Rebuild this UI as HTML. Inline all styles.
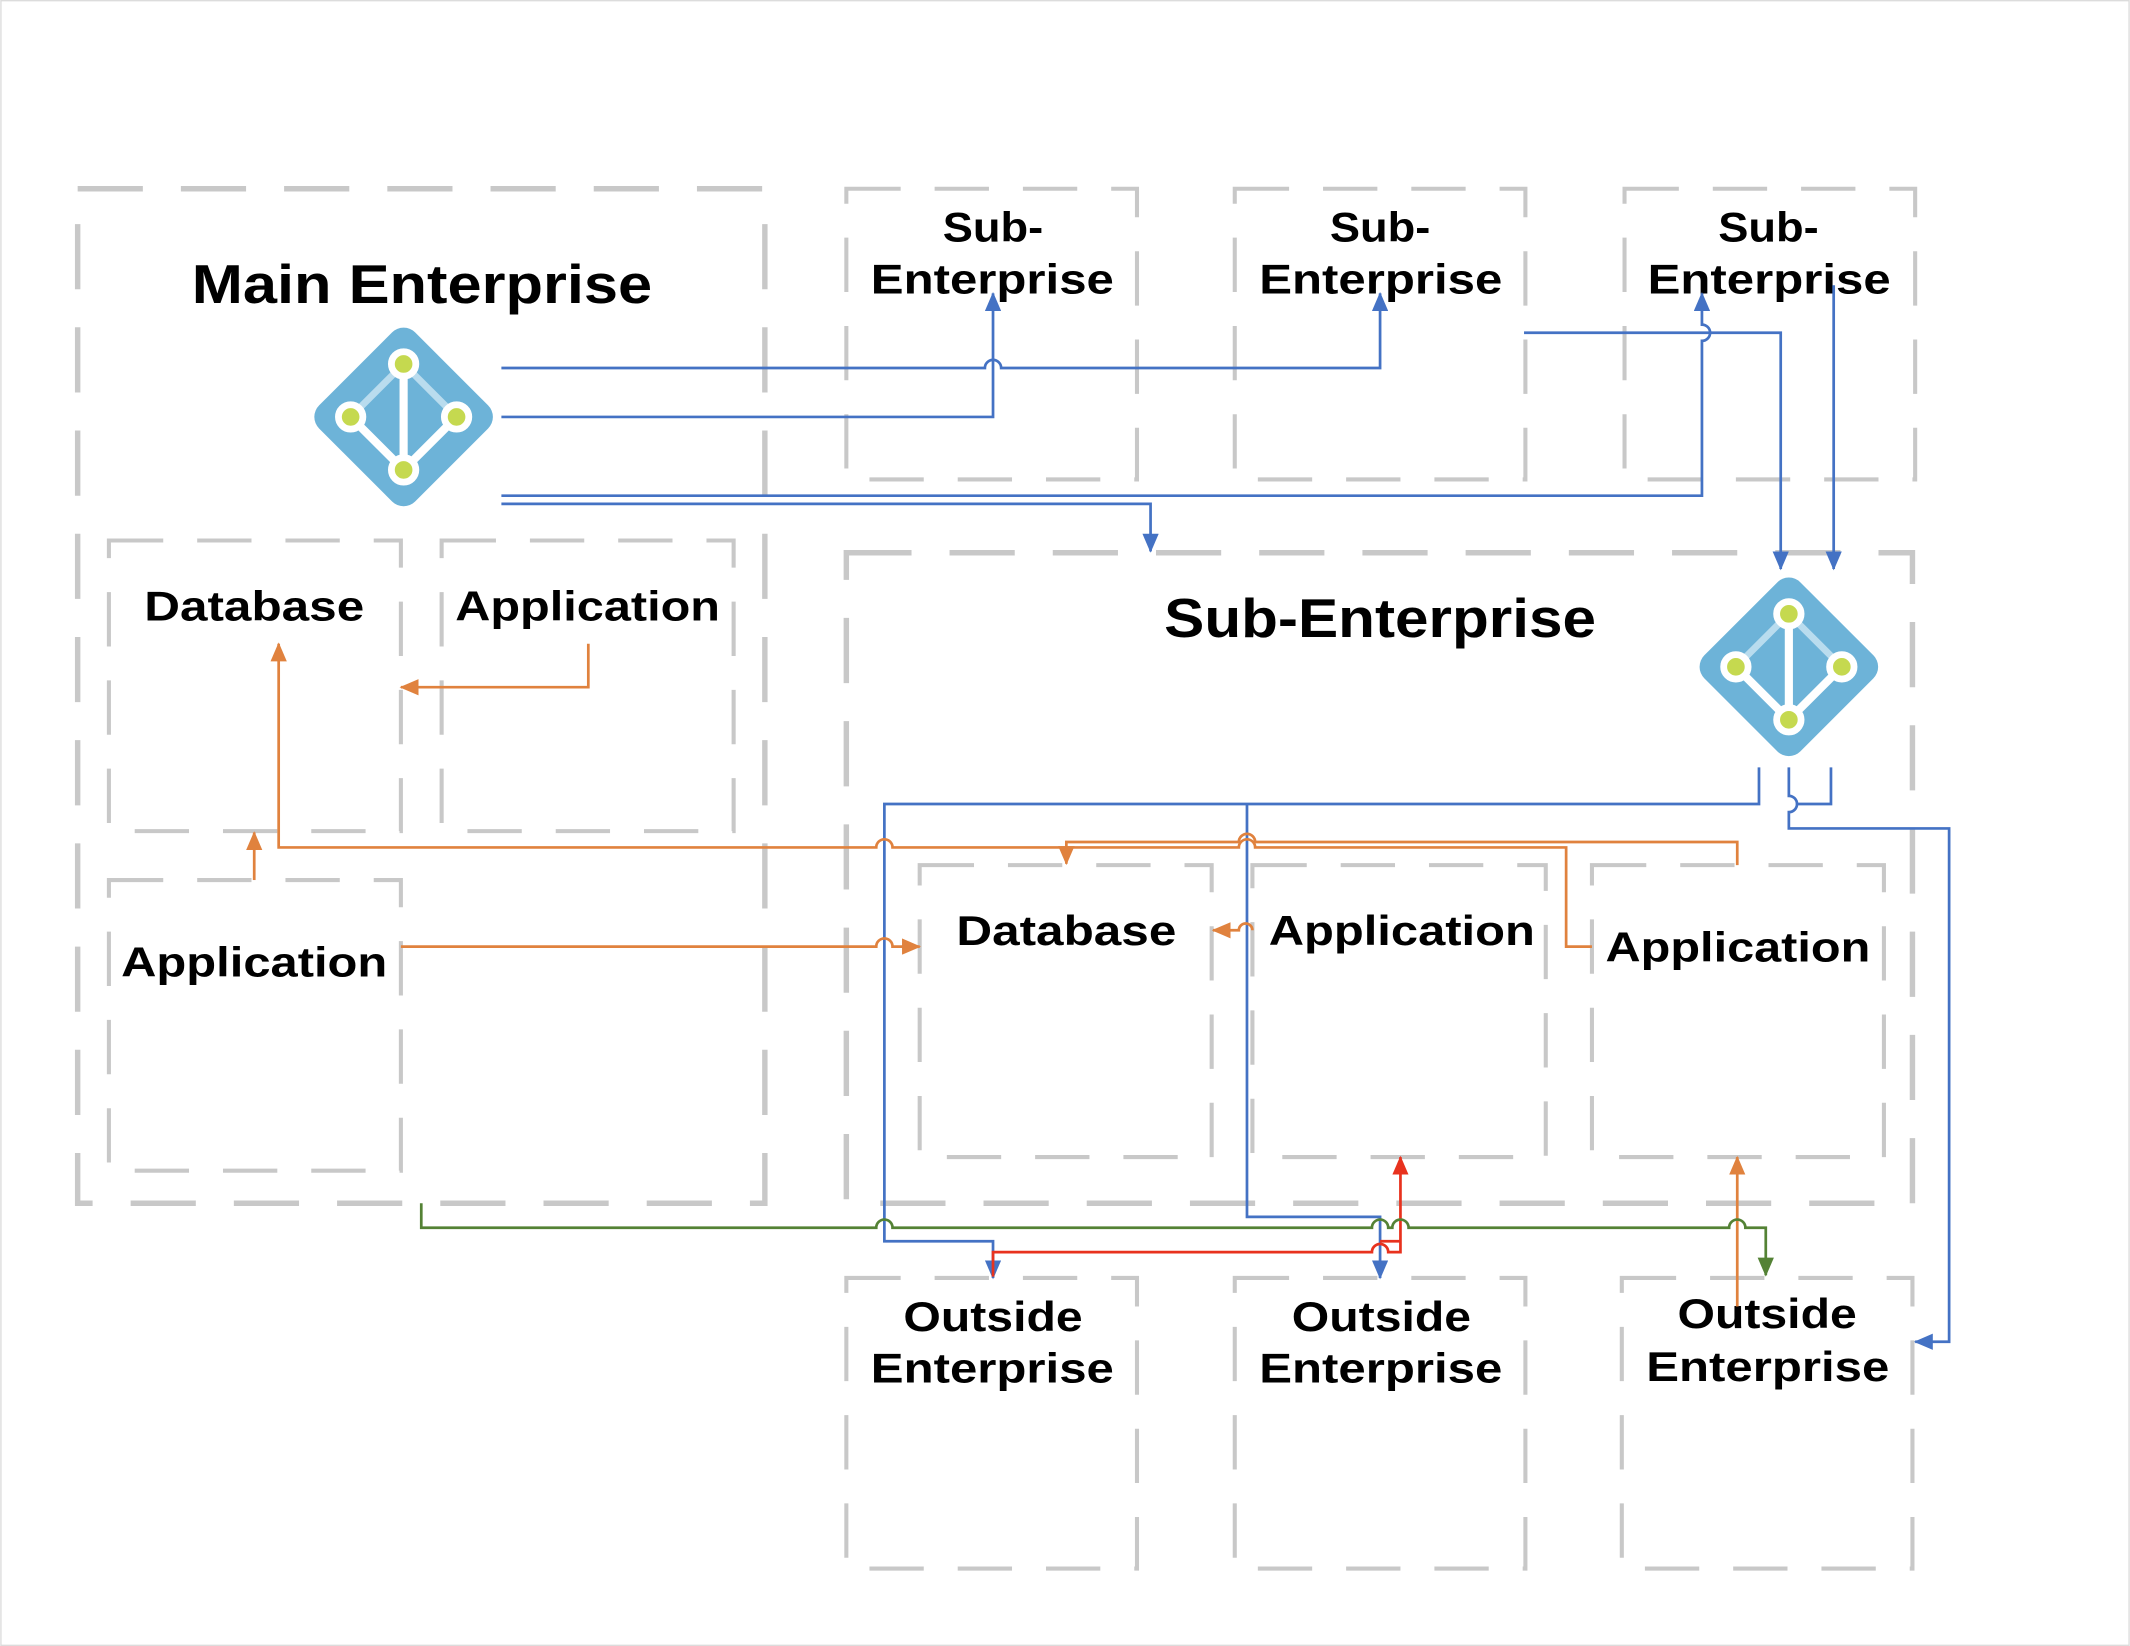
<!DOCTYPE html>
<html><head><meta charset="utf-8"><style>
html,body{margin:0;padding:0;background:#fff}
svg{display:block}
text{font-family:"Liberation Sans",Arial,sans-serif;font-weight:bold;fill:#000}
.b{fill:none;stroke:#c8c8c8;stroke-width:4;stroke-dasharray:48 28}
.bi{fill:none;stroke:#c8c8c8;stroke-width:3;stroke-dasharray:40 25}
.bl{fill:none;stroke:#4472c4;stroke-width:2}
.or{fill:none;stroke:#e0823e;stroke-width:2}
.rd{fill:none;stroke:#e8321e;stroke-width:2}
.gr{fill:none;stroke:#548235;stroke-width:2}
</style></head><body>
<svg width="2130" height="1646" viewBox="0 0 1568 1212" xmlns="http://www.w3.org/2000/svg">
<defs>
<marker id="ab" markerWidth="14" markerHeight="12" refX="13" refY="6" orient="auto" markerUnits="userSpaceOnUse"><path d="M0,0 L14,6 L0,12 z" fill="#4472c4"/></marker>
<marker id="ao" markerWidth="14" markerHeight="12" refX="13" refY="6" orient="auto" markerUnits="userSpaceOnUse"><path d="M0,0 L14,6 L0,12 z" fill="#e0823e"/></marker>
<marker id="ar" markerWidth="14" markerHeight="12" refX="13" refY="6" orient="auto" markerUnits="userSpaceOnUse"><path d="M0,0 L14,6 L0,12 z" fill="#e8321e"/></marker>
<marker id="ag" markerWidth="14" markerHeight="12" refX="13" refY="6" orient="auto" markerUnits="userSpaceOnUse"><path d="M0,0 L14,6 L0,12 z" fill="#548235"/></marker>
<g id="icon">
<rect x="-50" y="-50" width="100" height="100" rx="12" transform="rotate(45)" fill="#6db3d8"/>
<line x1="0" y1="-39" x2="39" y2="0" stroke="#b9dcee" stroke-width="5"/>
<line x1="0" y1="-39" x2="-39" y2="0" stroke="#b9dcee" stroke-width="5"/>
<line x1="0" y1="-39" x2="0" y2="39" stroke="#fff" stroke-width="6"/>
<line x1="-39" y1="0" x2="0" y2="39" stroke="#fff" stroke-width="6"/>
<line x1="39" y1="0" x2="0" y2="39" stroke="#fff" stroke-width="6"/>
<g fill="#c5d94f" stroke="#fff" stroke-width="5">
<circle cx="0" cy="-39" r="9"/><circle cx="-39" cy="0" r="9"/><circle cx="39" cy="0" r="9"/><circle cx="0" cy="39" r="9"/>
</g>
</g>
</defs>
<rect x="0.5" y="0.5" width="1567" height="1211" fill="none" stroke="#dcdcdc"/>

<rect class="b" x="57" y="139" width="506" height="747"/>
<rect class="bi" x="80" y="398" width="215" height="214"/>
<rect class="bi" x="325" y="398" width="215" height="214"/>
<rect class="bi" x="80" y="648" width="215" height="214"/>
<rect class="bi" x="623" y="139" width="214" height="214"/>
<rect class="bi" x="909" y="139" width="214" height="214"/>
<rect class="bi" x="1196" y="139" width="214" height="214"/>
<rect class="b" x="623" y="407" width="785" height="479"/>
<rect class="bi" x="677" y="637" width="215" height="215"/>
<rect class="bi" x="922" y="637" width="216" height="215"/>
<rect class="bi" x="1172" y="637" width="215" height="215"/>
<rect class="bi" x="623" y="941" width="214" height="214"/>
<rect class="bi" x="909" y="941" width="214" height="214"/>
<rect class="bi" x="1194" y="941" width="214" height="214"/>

<use href="#icon" x="297" y="307"/>
<use href="#icon" x="1317" y="491"/>

<text x="141" y="223" font-size="40" textLength="339" lengthAdjust="spacingAndGlyphs">Main Enterprise</text>
<text x="694" y="178" font-size="31" textLength="74" lengthAdjust="spacingAndGlyphs">Sub-</text>
<text x="641" y="216" font-size="31" textLength="179" lengthAdjust="spacingAndGlyphs">Enterprise</text>
<text x="979" y="178" font-size="31" textLength="74" lengthAdjust="spacingAndGlyphs">Sub-</text>
<text x="927" y="216" font-size="31" textLength="179" lengthAdjust="spacingAndGlyphs">Enterprise</text>
<text x="1265" y="178" font-size="31" textLength="74" lengthAdjust="spacingAndGlyphs">Sub-</text>
<text x="1213" y="216" font-size="31" textLength="179" lengthAdjust="spacingAndGlyphs">Enterprise</text>
<text x="106" y="457" font-size="31" textLength="162" lengthAdjust="spacingAndGlyphs">Database</text>
<text x="335" y="457" font-size="31" textLength="195" lengthAdjust="spacingAndGlyphs">Application</text>
<text x="89" y="719" font-size="31" textLength="196" lengthAdjust="spacingAndGlyphs">Application</text>
<text x="857" y="469" font-size="40" textLength="318" lengthAdjust="spacingAndGlyphs">Sub-Enterprise</text>
<text x="704" y="696" font-size="31" textLength="162" lengthAdjust="spacingAndGlyphs">Database</text>
<text x="934" y="696" font-size="31" textLength="196" lengthAdjust="spacingAndGlyphs">Application</text>
<text x="1182" y="708" font-size="31" textLength="195" lengthAdjust="spacingAndGlyphs">Application</text>
<text x="665" y="980" font-size="31" textLength="132" lengthAdjust="spacingAndGlyphs">Outside</text>
<text x="641" y="1018" font-size="31" textLength="179" lengthAdjust="spacingAndGlyphs">Enterprise</text>
<text x="951" y="980" font-size="31" textLength="132" lengthAdjust="spacingAndGlyphs">Outside</text>
<text x="927" y="1018" font-size="31" textLength="179" lengthAdjust="spacingAndGlyphs">Enterprise</text>
<text x="1235" y="978" font-size="31" textLength="132" lengthAdjust="spacingAndGlyphs">Outside</text>
<text x="1212" y="1017" font-size="31" textLength="179" lengthAdjust="spacingAndGlyphs">Enterprise</text>

<path class="bl" d="M369,271 H725 a6,6 0 0 1 12,0 H1016 V216" marker-end="url(#ab)"/>
<path class="bl" d="M369,307 H731 V216" marker-end="url(#ab)"/>
<path class="bl" d="M369,365 H1253 V251 a6,6 0 0 0 0,-12 V216" marker-end="url(#ab)"/>
<path class="bl" d="M369,371 H847 V406" marker-end="url(#ab)"/>
<path class="bl" d="M1122,245 H1311 V419" marker-end="url(#ab)"/>
<path class="bl" d="M1350,210 V419" marker-end="url(#ab)"/>
<path class="bl" d="M1295,565 V592 H651 V914 H731 V941" marker-end="url(#ab)"/>
<path class="bl" d="M1348,565 V592 H1323"/>
<path class="bl" d="M1317,565 V586 a6,6 0 0 1 0,12 V610 H1435 V988 H1410" marker-end="url(#ab)"/>
<path class="bl" d="M918,592 V896 H1016 V941" marker-end="url(#ab)"/>

<path class="or" d="M433,474 V506 H295" marker-end="url(#ao)"/>
<path class="or" d="M187,648 V613" marker-end="url(#ao)"/>
<path class="or" d="M1172,697 H1153 V624 H924 a6,6 0 0 0 -12,0 H657 a6,6 0 0 0 -12,0 H205 V474" marker-end="url(#ao)"/>
<path class="or" d="M295,697 H645 a6,6 0 0 1 12,0 H677" marker-end="url(#ao)"/>
<path class="or" d="M1279,637 V620 H924 a6,6 0 0 0 -12,0 H785 V636" marker-end="url(#ao)"/>
<path class="or" d="M922,685 a5,5 0 0 0 -10,0 H893" marker-end="url(#ao)"/>
<path class="or" d="M1279,962 V852" marker-end="url(#ao)"/>

<path class="rd" d="M731,940 V922 H1010 a6,6 0 0 1 12,0 H1031 V852" marker-end="url(#ar)"/>
<path class="rd" d="M1016,914 H1031"/>

<path class="gr" d="M310,886 V904 H645 a6,6 0 0 1 12,0 H1010 a6,6 0 0 1 12,0 H1025 a6,6 0 0 1 12,0 H1273 a6,6 0 0 1 12,0 H1300 V939" marker-end="url(#ag)"/>
</svg>
</body></html>
